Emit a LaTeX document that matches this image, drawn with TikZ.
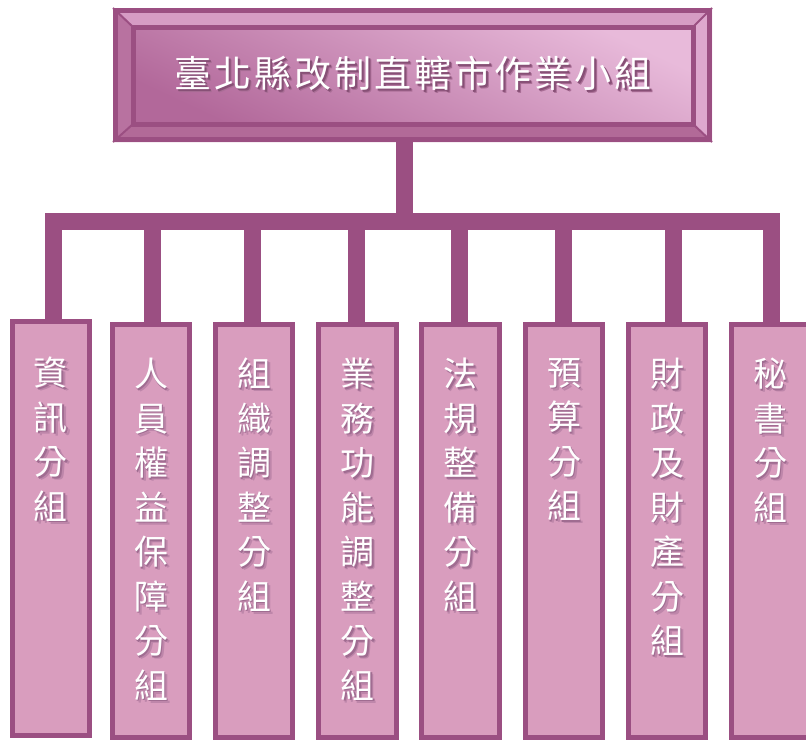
\documentclass[tikz,border=0pt]{standalone}
\usepackage{fontspec}
\newfontfamily\cjk{Noto Sans CJK TC}
\definecolor{dk}{RGB}{155,79,130}
\definecolor{boxfill}{RGB}{217,157,190}
\definecolor{bevtopc}{RGB}{214,156,196}
\definecolor{bevleftc}{RGB}{184,114,160}
\definecolor{bevbotc}{RGB}{178,106,152}
\definecolor{bevrightc}{RGB}{222,168,206}
\definecolor{innerlight}{RGB}{232,186,218}
\definecolor{innerdark}{RGB}{178,104,154}
\definecolor{bshA}{RGB}{190,134,170}
\definecolor{bshB}{RGB}{160,108,145}
\definecolor{tshA}{RGB}{170,110,150}
\definecolor{tshB}{RGB}{135,80,118}
\newcommand\gapp{\hspace{3pt}}
\newcommand\bsc[1]{\rlap{\kern3pt\lower3pt\hbox{\textcolor{bshA}{#1}}}\rlap{\kern1.6pt\lower1.6pt\hbox{\textcolor{bshB}{#1}}}#1}
\newcommand\tsc[1]{\rlap{\kern3pt\lower3pt\hbox{\textcolor{tshA}{#1}}}\rlap{\kern1.6pt\lower1.6pt\hbox{\textcolor{tshB}{#1}}}#1}
\begin{document}
\begin{tikzpicture}[x=1pt,y=-1pt,
  conn/.style={draw=dk,line width=17pt},
  subbox/.style={draw=dk,fill=boxfill,line width=5pt,inner sep=0pt,outer sep=0pt,minimum width=77pt},
  vtxt/.style={text=white,inner sep=0pt,align=center,font=\cjk\fontsize{34}{44.5}\selectfont,anchor=north},
  ttxt/.style={text=white,inner sep=0pt,font=\cjk\fontsize{37}{40}\selectfont,anchor=center}]
\useasboundingbox (0,0) rectangle (806,740);
% bevel frame of the top box
\fill[bevtopc] (113,8) -- (712,8) -- (693,27) -- (133,27) -- cycle;
\fill[bevleftc] (113,8) -- (133,27) -- (133,124) -- (113,142) -- cycle;
\fill[bevbotc] (113,142) -- (133,124) -- (693,124) -- (712,142) -- cycle;
\fill[bevrightc] (712,8) -- (712,142) -- (693,124) -- (693,27) -- cycle;
\draw[dk,line width=2pt] (113,8) -- (133,27) (712,8) -- (693,27) (113,142) -- (133,124) (712,142) -- (693,124);
\shade[top color=innerlight,bottom color=innerdark,shading angle=-25] (133,27) rectangle (693,124);
\draw[dk,line width=5pt] (133,27) rectangle (693,124);
\node[draw=dk,line width=5pt,inner sep=0pt,outer sep=0pt,minimum width=594pt,minimum height=129pt] (top) at (412.5,75) {};
\node[ttxt] (title) at (413,75) {\tsc{臺}\gapp\tsc{北}\gapp\tsc{縣}\gapp\tsc{改}\gapp\tsc{制}\gapp\tsc{直}\gapp\tsc{轄}\gapp\tsc{市}\gapp\tsc{作}\gapp\tsc{業}\gapp\tsc{小}\gapp\tsc{組}};
% sub boxes
\node[subbox,minimum height=414pt] (b1) at (51,528.5) {};
\node[subbox,minimum height=413pt] (b2) at (151,531) {};
\node[subbox,minimum height=413pt] (b3) at (254,531) {};
\node[subbox,minimum height=413pt,minimum width=78pt] (b4) at (357.5,531) {};
\node[subbox,minimum height=413pt,minimum width=78pt] (b5) at (460.5,531) {};
\node[subbox,minimum height=413pt] (b6) at (564,531) {};
\node[subbox,minimum height=413pt] (b7) at (667,531) {};
\node[subbox,minimum height=413pt] (b8) at (770,531) {};
% connectors
\coordinate (s1) at (404.5,221.5);
\coordinate (bl) at (45,221.5);
\coordinate (br) at (780,221.5);
\draw[conn] (s1 |- top.south) -- (s1);
\draw[conn] (bl) -- (br);
\coordinate (d1) at (53.5,213);
\coordinate (d2) at (152.5,213);
\coordinate (d3) at (252.5,213);
\coordinate (d4) at (356,213);
\coordinate (d5) at (459,213);
\coordinate (d6) at (563,213);
\coordinate (d7) at (673.5,213);
\coordinate (d8) at (771.5,213);
\foreach \i in {1,...,8}{\draw[conn] (d\i) -- (d\i |- b\i.north);}
% texts
\node[vtxt] (t1) at (51,357) {\bsc{資}\\\bsc{訊}\\\bsc{分}\\\bsc{組}};
\node[vtxt] (t2) at (151,358) {\bsc{人}\\\bsc{員}\\\bsc{權}\\\bsc{益}\\\bsc{保}\\\bsc{障}\\\bsc{分}\\\bsc{組}};
\node[vtxt] (t3) at (254,358) {\bsc{組}\\\bsc{織}\\\bsc{調}\\\bsc{整}\\\bsc{分}\\\bsc{組}};
\node[vtxt] (t4) at (357.5,358) {\bsc{業}\\\bsc{務}\\\bsc{功}\\\bsc{能}\\\bsc{調}\\\bsc{整}\\\bsc{分}\\\bsc{組}};
\node[vtxt] (t5) at (460.5,358) {\bsc{法}\\\bsc{規}\\\bsc{整}\\\bsc{備}\\\bsc{分}\\\bsc{組}};
\node[vtxt] (t6) at (564,358) {\bsc{預}\\\bsc{算}\\\bsc{分}\\\bsc{組}};
\node[vtxt] (t7) at (667,358) {\bsc{財}\\\bsc{政}\\\bsc{及}\\\bsc{財}\\\bsc{產}\\\bsc{分}\\\bsc{組}};
\node[vtxt] (t8) at (770,358) {\bsc{秘}\\\bsc{書}\\\bsc{分}\\\bsc{組}};
\end{tikzpicture}
\end{document}
